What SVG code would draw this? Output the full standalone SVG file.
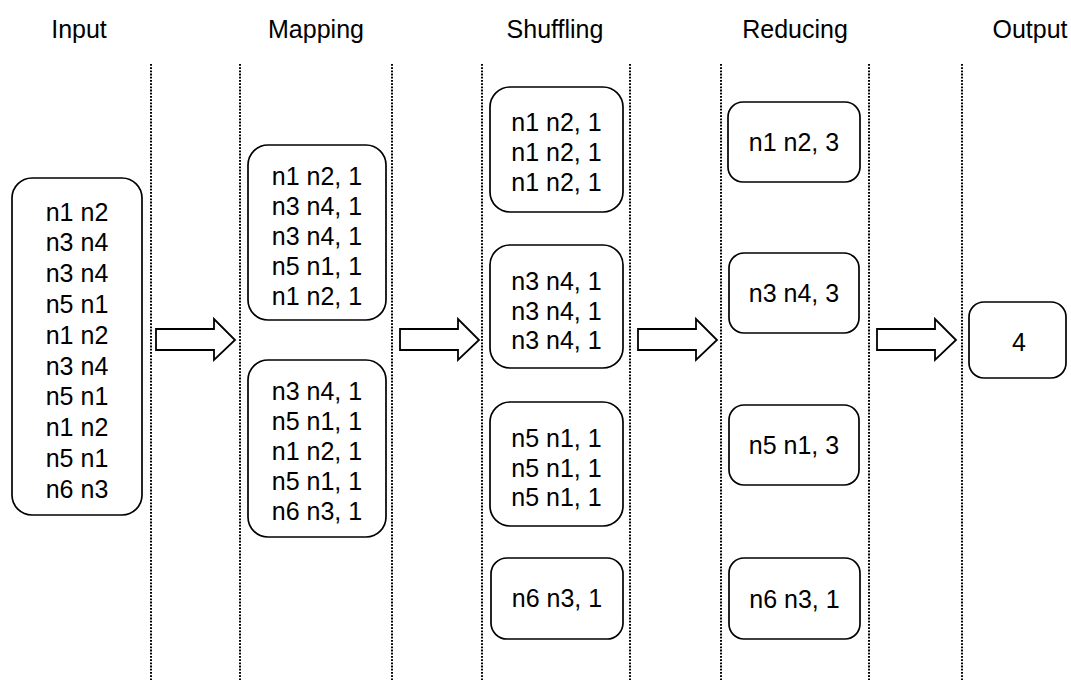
<svg xmlns="http://www.w3.org/2000/svg" width="1071" height="680" viewBox="0 0 1071 680">
<style>
text{font-family:"Liberation Sans",Arial,sans-serif;font-size:25px;fill:#000;text-anchor:middle}
.box{fill:#fff;stroke:#000;stroke-width:1.7}
.sep{stroke:#000;stroke-width:2;stroke-dasharray:1.8 1.4;fill:none}
.arr{fill:#fff;stroke:#000;stroke-width:1.8;stroke-linejoin:miter}
</style>
<rect width="1071" height="680" fill="#fff"/>
<g id="titles">
<text x="79" y="38">Input</text>
<text x="316" y="38">Mapping</text>
<text x="555" y="38">Shuffling</text>
<text x="795" y="38">Reducing</text>
<text x="1030" y="38">Output</text>
</g>
<g id="separators">
<line class="sep" x1="151" y1="64" x2="151" y2="680"/>
<line class="sep" x1="240" y1="64" x2="240" y2="680"/>
<line class="sep" x1="392" y1="64" x2="392" y2="680"/>
<line class="sep" x1="482" y1="64" x2="482" y2="680"/>
<line class="sep" x1="630" y1="64" x2="630" y2="680"/>
<line class="sep" x1="721" y1="64" x2="721" y2="680"/>
<line class="sep" x1="869" y1="64" x2="869" y2="680"/>
<line class="sep" x1="962" y1="64" x2="962" y2="680"/>
</g>
<g id="input">
<rect class="box" x="12" y="178" width="130" height="337" rx="20"/>
<text x="77" y="220.5">n1 n2</text>
<text x="77" y="251.3">n3 n4</text>
<text x="77" y="282.1">n3 n4</text>
<text x="77" y="312.9">n5 n1</text>
<text x="77" y="343.7">n1 n2</text>
<text x="77" y="374.5">n3 n4</text>
<text x="77" y="405.3">n5 n1</text>
<text x="77" y="436.1">n1 n2</text>
<text x="77" y="466.9">n5 n1</text>
<text x="77" y="497.7">n6 n3</text>
</g>
<g id="map1">
<rect class="box" x="248" y="145" width="138" height="175" rx="20"/>
<text x="317" y="185">n1 n2, 1</text>
<text x="317" y="215">n3 n4, 1</text>
<text x="317" y="245">n3 n4, 1</text>
<text x="317" y="275">n5 n1, 1</text>
<text x="317" y="305">n1 n2, 1</text>
</g>
<g id="map2">
<rect class="box" x="248" y="360" width="138" height="177" rx="20"/>
<text x="317" y="400">n3 n4, 1</text>
<text x="317" y="430">n5 n1, 1</text>
<text x="317" y="460">n1 n2, 1</text>
<text x="317" y="490">n5 n1, 1</text>
<text x="317" y="520">n6 n3, 1</text>
</g>
<g id="shuf1">
<rect class="box" x="490" y="87" width="133" height="125" rx="20"/>
<text x="556.5" y="131">n1 n2, 1</text>
<text x="556.5" y="161">n1 n2, 1</text>
<text x="556.5" y="191">n1 n2, 1</text>
</g>
<g id="shuf2">
<rect class="box" x="490" y="245" width="133" height="123" rx="20"/>
<text x="556.5" y="290">n3 n4, 1</text>
<text x="556.5" y="320">n3 n4, 1</text>
<text x="556.5" y="349">n3 n4, 1</text>
</g>
<g id="shuf3">
<rect class="box" x="490" y="402" width="133" height="124" rx="20"/>
<text x="556.5" y="447">n5 n1, 1</text>
<text x="556.5" y="477">n5 n1, 1</text>
<text x="556.5" y="506">n5 n1, 1</text>
</g>
<g id="shuf4">
<rect class="box" x="491" y="558" width="132" height="81" rx="16"/>
<text x="557" y="607">n6 n3, 1</text>
</g>
<g id="red1">
<rect class="box" x="728" y="102" width="132" height="80" rx="15"/>
<text x="794" y="151">n1 n2, 3</text>
</g>
<g id="red2">
<rect class="box" x="729" y="253" width="130" height="80" rx="15"/>
<text x="794" y="302">n3 n4, 3</text>
</g>
<g id="red3">
<rect class="box" x="729" y="405" width="130" height="80" rx="15"/>
<text x="794" y="454">n5 n1, 3</text>
</g>
<g id="red4">
<rect class="box" x="729" y="558" width="131" height="81" rx="15"/>
<text x="794.5" y="608">n6 n3, 1</text>
</g>
<g id="output">
<rect class="box" x="969" y="302" width="97" height="76" rx="15"/>
<text x="1019" y="351">4</text>
</g>
<g id="connectors">
<polygon class="arr" points="156,329 214,329 214,319 235,340 214,360 214,350 156,350"/>
<polygon class="arr" points="400,329 458,329 458,319 479,340 458,360 458,350 400,350"/>
<polygon class="arr" points="638,329 696,329 696,319 717,340 696,360 696,350 638,350"/>
<polygon class="arr" points="877,329 935,329 935,319 956,340 935,360 935,350 877,350"/>
</g>
</svg>
